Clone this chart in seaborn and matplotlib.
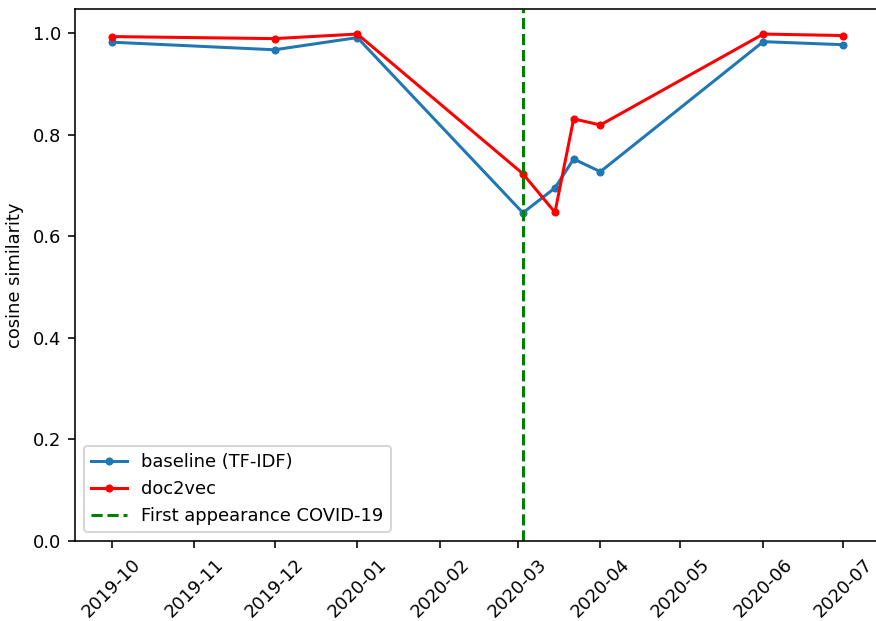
import matplotlib
matplotlib.use("Agg")
import matplotlib.pyplot as plt
import matplotlib.dates as mdates
import seaborn as sns
import pandas as pd

dates = ["2019-10-01", "2019-12-01", "2020-01-01", "2020-03-03", "2020-03-15",
         "2020-03-22", "2020-04-01", "2020-06-01", "2020-07-01"]
baseline = [0.982, 0.967, 0.991, 0.646, 0.695, 0.752, 0.727, 0.983, 0.977]
doc2vec = [0.993, 0.989, 0.998, 0.723, 0.647, 0.831, 0.819, 0.998, 0.995]
covid_date = "2020-03-03"

df = pd.DataFrame({"date": pd.to_datetime(dates), "baseline": baseline, "doc2vec": doc2vec})

plt.rcParams["font.size"] = 8.9
dpi = 145
fig = plt.figure(figsize=(876 / dpi, 621 / dpi), dpi=dpi)
ax = fig.add_axes([75 / 876, 1 - 541 / 621, (880 - 75) / 876, (541 - 9.3) / 621])

sns.lineplot(data=df, x="date", y="baseline", ax=ax, color="#1f77b4", marker=".",
             markeredgecolor="#1f77b4", markeredgewidth=1, label="baseline (TF-IDF)")
sns.lineplot(data=df, x="date", y="doc2vec", ax=ax, color="red", marker=".",
             markeredgecolor="red", markeredgewidth=1, label="doc2vec")
ax.axvline(pd.to_datetime(covid_date), color="green", linestyle="--", label="First appearance COVID-19")

ax.set_ylim(0, 1.0467)
start = pd.to_datetime(dates[0]) - pd.Timedelta(days=13.7)
end = pd.to_datetime(dates[-1]) + pd.Timedelta(days=13.7)
ax.set_xlim(start, end)
ax.xaxis.set_major_locator(mdates.MonthLocator())
ax.xaxis.set_major_formatter(mdates.DateFormatter("%Y-%m"))
plt.setp(ax.get_xticklabels(), rotation=45)
ax.set_xlabel("")
ax.set_ylabel("cosine similarity")
ax.legend(loc="lower left")

fig.savefig("out.png", dpi=dpi)
